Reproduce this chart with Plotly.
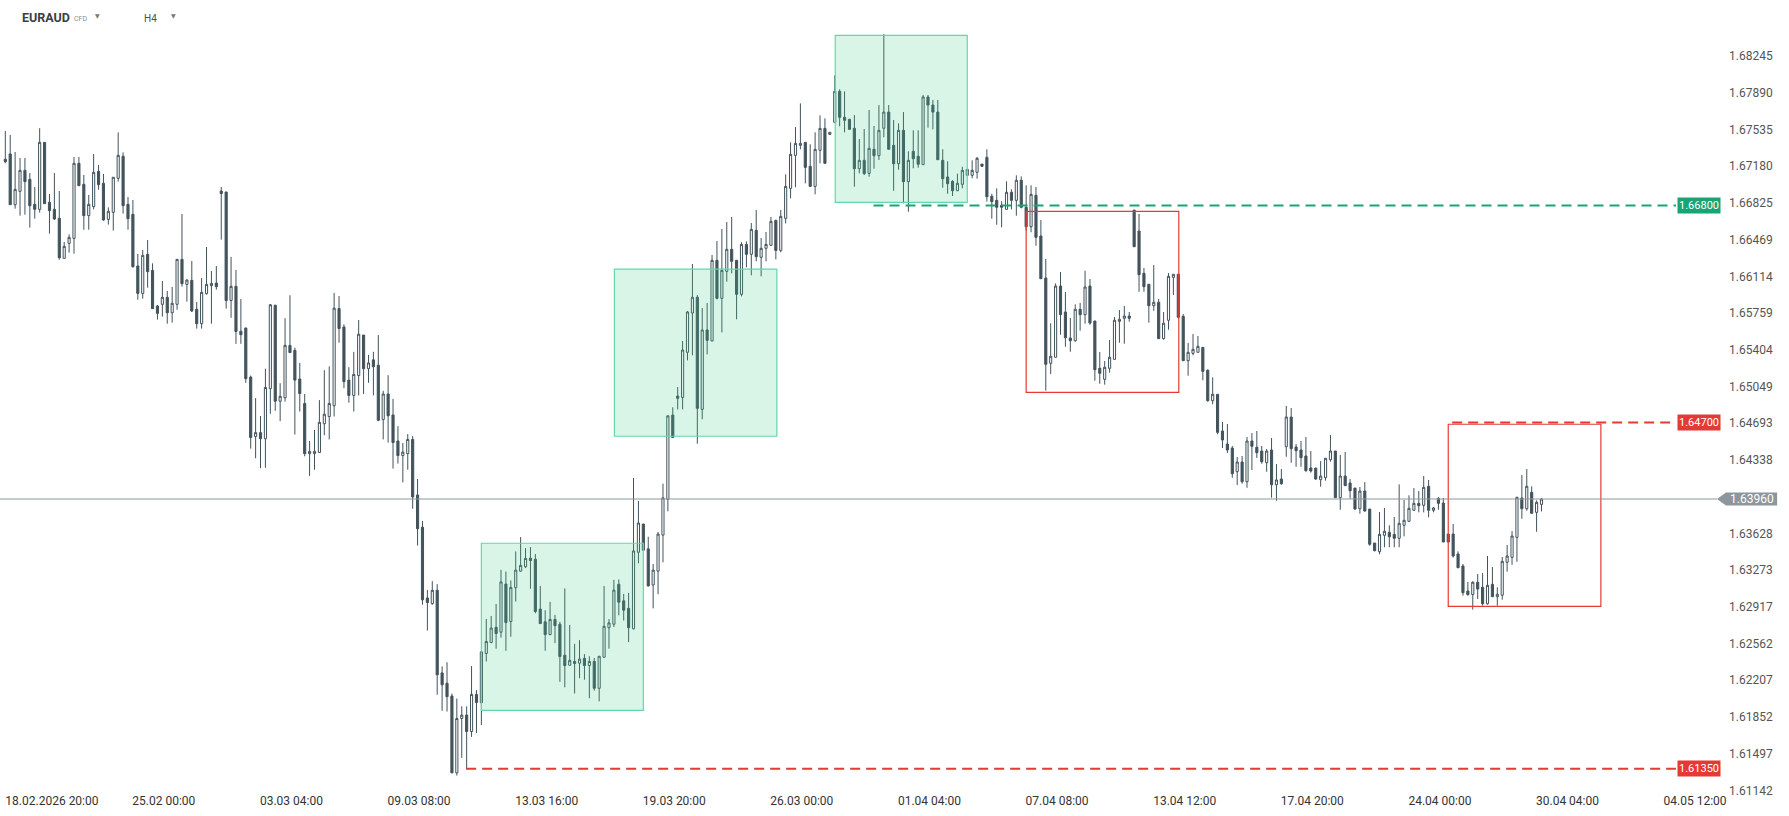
import plotly.graph_objects as go

# ---------------- data (EURAUD, H4) ----------------
open_ = [
1.67246,1.67297,1.66807,1.66936,1.67139,1.67052,1.66810,1.66762,1.67410,1.66830,
1.66762,1.66675,1.66288,1.66433,1.66481,1.67207,1.67004,1.66701,1.66788,1.67130,
1.67014,1.66665,1.66733,1.67062,1.67275,1.66810,1.66714,1.66214,1.65949,1.66327,
1.66172,1.65827,1.65843,1.65911,1.65762,1.65843,1.66278,1.66036,1.66075,1.65795,
1.65656,1.65946,1.66024,1.66049,1.66939,1.66930,1.65880,1.66017,1.65583,1.65613,
1.65139,1.64565,1.64602,1.64543,1.65028,1.65835,1.64906,1.64939,1.65446,1.65398,
1.65121,1.64884,1.64399,1.64399,1.64410,1.64688,1.64758,1.64862,1.65802,1.65624,
1.65110,1.64962,1.65154,1.65546,1.65221,1.65306,1.65254,1.64728,1.64976,1.64773,
1.64521,1.64380,1.64399,1.64536,1.63999,1.63688,1.63003,1.62948,1.63077,1.62278,
1.62178,1.62055,1.61311,1.61837,1.61870,1.61711,1.62070,1.61989,1.62466,1.62572,
1.62719,1.62672,1.63138,1.62775,1.63102,1.63262,1.63305,1.63388,1.63378,1.62895,
1.62772,1.62649,1.62795,1.62749,1.62449,1.62352,1.62389,1.62372,1.62419,1.62349,
1.62389,1.62129,1.62429,1.62715,1.62749,1.63135,1.62975,1.62902,1.62705,1.63445,
1.63718,1.63478,1.63128,1.63262,1.63611,1.63958,1.64772,1.64956,1.64943,1.65379,
1.65759,1.65911,1.64827,1.65595,1.65488,1.66269,1.65901,1.66162,1.66375,1.66269,
1.65940,1.66423,1.66327,1.66559,1.66298,1.66385,1.66414,1.66656,1.66365,1.66675,
1.66965,1.67284,1.67381,1.67410,1.67178,1.66984,1.67333,1.67545,1.67487,1.67604,
1.67903,1.67652,1.67633,1.67546,1.67155,1.67236,1.67110,1.67343,1.67281,1.67546,
1.67703,1.67381,1.67203,1.67526,1.67029,1.67323,1.67275,1.67194,1.67849,1.67771,
1.67703,1.67236,1.67075,1.67033,1.66942,1.67004,1.67091,1.67091,1.67120,1.67200,
1.67265,1.66888,1.66849,1.66801,1.66762,1.66927,1.66849,1.67043,1.66782,1.66594,
1.66898,1.66504,1.66098,1.65273,1.65331,1.66020,1.65769,1.65517,1.65491,1.65795,
1.65743,1.66020,1.65682,1.65224,1.65118,1.65224,1.65311,1.65679,1.65708,1.65730,
1.66755,1.66552,1.66143,1.66037,1.65830,1.65863,1.65511,1.65689,1.66104,1.66134,
1.65727,1.65298,1.65369,1.65379,1.65427,1.65205,1.64911,1.64973,1.64618,1.64492,
1.64453,1.64224,1.64318,1.64127,1.64521,1.64460,1.64424,1.64311,1.64434,1.64098,
1.64153,1.64466,1.64753,1.64463,1.64434,1.64376,1.64260,1.64260,1.64147,1.64166,
1.64340,1.64424,1.63973,1.64182,1.64115,1.64066,1.63866,1.64037,1.63863,1.63534,
1.63450,1.63609,1.63638,1.63618,1.63580,1.63706,1.63744,1.63851,1.63918,1.63899,
1.64083,1.63851,1.63967,1.63921,1.63621,1.63621,1.63428,1.63312,1.63070,1.63035,
1.63155,1.63106,1.62947,1.63135,1.63015,1.63029,1.63348,1.63396,1.63589,1.63970,
1.63866,1.64025,1.63831,1.63908]

high = [
1.67520,1.67481,1.67317,1.67259,1.67259,1.67113,1.66978,1.67546,1.67410,1.66910,
1.67113,1.66939,1.66446,1.66520,1.67268,1.67268,1.67094,1.66901,1.67297,1.67191,
1.67104,1.66781,1.67072,1.67507,1.67313,1.66881,1.66852,1.66330,1.66369,1.66465,
1.66240,1.65837,1.66069,1.65972,1.66011,1.66278,1.66717,1.66085,1.66262,1.65866,
1.66098,1.66398,1.66165,1.66214,1.66978,1.66930,1.66302,1.66176,1.65894,1.65620,
1.65154,1.64936,1.64762,1.65221,1.65846,1.65835,1.65080,1.65709,1.65931,1.65424,
1.65276,1.64976,1.64521,1.64628,1.64917,1.65206,1.65243,1.65954,1.65924,1.65650,
1.65235,1.65384,1.65691,1.65546,1.65354,1.65384,1.65546,1.65006,1.65158,1.64928,
1.64665,1.64502,1.64588,1.64569,1.64154,1.63747,1.63081,1.63166,1.63136,1.62341,
1.62381,1.62078,1.62030,1.61955,1.61955,1.62344,1.62111,1.62489,1.62799,1.62829,
1.62945,1.63275,1.63258,1.63172,1.63452,1.63592,1.63485,1.63495,1.63428,1.63119,
1.62885,1.62965,1.62839,1.62772,1.63095,1.62742,1.62559,1.62595,1.62459,1.62439,
1.62422,1.62439,1.63119,1.62799,1.63178,1.63182,1.63042,1.63052,1.64164,1.63941,
1.63718,1.63595,1.63332,1.63641,1.64108,1.64771,1.64847,1.65043,1.65488,1.65779,
1.66233,1.65933,1.65807,1.65856,1.66320,1.66456,1.66572,1.66639,1.66688,1.66269,
1.66443,1.66452,1.66630,1.66755,1.66485,1.66543,1.66688,1.66656,1.66755,1.67100,
1.67410,1.67558,1.67787,1.67410,1.67391,1.67507,1.67671,1.67642,1.67507,1.68058,
1.67923,1.67903,1.67633,1.67674,1.67442,1.67539,1.67723,1.67568,1.67771,1.68458,
1.67771,1.67626,1.67594,1.67703,1.67323,1.67526,1.67526,1.67868,1.67868,1.67820,
1.67820,1.67343,1.67227,1.67043,1.67107,1.67174,1.67149,1.67236,1.67268,1.67200,
1.67343,1.66913,1.66965,1.66840,1.67033,1.66956,1.67091,1.67081,1.66994,1.66994,
1.66978,1.66659,1.66282,1.65660,1.66046,1.66156,1.65962,1.65711,1.65843,1.65856,
1.66168,1.66088,1.65682,1.65382,1.65295,1.65498,1.65720,1.65788,1.65827,1.65769,
1.66755,1.66717,1.66194,1.66037,1.66223,1.65895,1.65769,1.66146,1.66134,1.66134,
1.65749,1.65469,1.65556,1.65537,1.65427,1.65214,1.65137,1.64973,1.64705,1.64685,
1.64473,1.64366,1.64376,1.64560,1.64598,1.64618,1.64473,1.64444,1.64550,1.64298,
1.64250,1.64860,1.64840,1.64492,1.64521,1.64560,1.64424,1.64260,1.64327,1.64354,
1.64579,1.64424,1.64386,1.64415,1.64153,1.64066,1.64076,1.64124,1.63863,1.63534,
1.63834,1.63873,1.63706,1.63786,1.64102,1.63950,1.63996,1.64066,1.64037,1.64182,
1.64144,1.63883,1.63977,1.63970,1.63621,1.63718,1.63454,1.63331,1.63157,1.63164,
1.63235,1.63244,1.63409,1.63302,1.63106,1.63399,1.63515,1.63650,1.63977,1.64192,
1.64250,1.64083,1.63947,1.63967]

low = [
1.67207,1.66807,1.66768,1.66701,1.66710,1.66585,1.66672,1.66730,1.66817,1.66527,
1.66659,1.66275,1.66288,1.66343,1.66333,1.66991,1.66565,1.66565,1.66762,1.66952,
1.66652,1.66614,1.66556,1.67030,1.66720,1.66565,1.66198,1.65888,1.65898,1.66004,
1.65801,1.65695,1.65724,1.65656,1.65666,1.65791,1.66014,1.65869,1.65769,1.65608,
1.65608,1.65937,1.65656,1.65985,1.66469,1.65802,1.65713,1.65461,1.65461,1.65084,
1.64447,1.64354,1.64258,1.64262,1.64784,1.64813,1.64713,1.64902,1.65376,1.64584,
1.64806,1.64373,1.64184,1.64243,1.64410,1.64577,1.64536,1.64758,1.65472,1.65032,
1.64891,1.64806,1.64962,1.64976,1.65084,1.64962,1.64713,1.64536,1.64506,1.64254,
1.64303,1.64121,1.64243,1.63866,1.63510,1.62937,1.62688,1.62937,1.62067,1.61911,
1.61904,1.61311,1.61285,1.61456,1.61345,1.61659,1.61696,1.61773,1.62389,1.62566,
1.62512,1.62619,1.62492,1.62629,1.62969,1.63258,1.63292,1.63092,1.62855,1.62755,
1.62492,1.62642,1.62566,1.62192,1.62139,1.62352,1.62079,1.62226,1.62212,1.62033,
1.62106,1.62003,1.62429,1.62512,1.62722,1.62835,1.62785,1.62576,1.62699,1.63338,
1.63462,1.63115,1.62902,1.63039,1.63348,1.63841,1.64556,1.64827,1.64827,1.65301,
1.65350,1.64495,1.64731,1.65359,1.65488,1.65891,1.65572,1.66062,1.66143,1.65698,
1.65920,1.66201,1.66124,1.66259,1.66114,1.66259,1.66414,1.66278,1.66346,1.66626,
1.66868,1.66975,1.67342,1.67013,1.66984,1.66907,1.67207,1.67207,1.67487,1.67604,
1.67565,1.67507,1.67530,1.66981,1.67110,1.67094,1.67078,1.67155,1.67239,1.67459,
1.67343,1.66942,1.67145,1.66820,1.66739,1.67159,1.67165,1.67194,1.67552,1.67536,
1.67242,1.66971,1.66913,1.66891,1.66942,1.66965,1.67091,1.67062,1.67058,1.67178,
1.66836,1.66671,1.66613,1.66588,1.66762,1.66762,1.66700,1.66772,1.66555,1.66540,
1.66410,1.66091,1.65008,1.65169,1.65331,1.65549,1.65433,1.65385,1.65482,1.65588,
1.65656,1.65646,1.65104,1.65075,1.65066,1.65182,1.65311,1.65472,1.65462,1.65675,
1.66400,1.65965,1.65965,1.65665,1.65781,1.65511,1.65501,1.65598,1.65933,1.65718,
1.65298,1.65153,1.65350,1.65379,1.65108,1.64901,1.64876,1.64586,1.64453,1.64405,
1.64166,1.64095,1.64108,1.64069,1.64240,1.64357,1.64301,1.64224,1.63973,1.63944,
1.64098,1.64369,1.64311,1.64272,1.64272,1.64224,1.64215,1.64147,1.64079,1.64137,
1.64321,1.63973,1.63856,1.64089,1.63963,1.63856,1.63818,1.63837,1.63508,1.63454,
1.63425,1.63493,1.63493,1.63493,1.63493,1.63599,1.63744,1.63847,1.63831,1.63831,
1.63783,1.63831,1.63856,1.63544,1.63544,1.63393,1.63295,1.63025,1.63025,1.62890,
1.62993,1.62928,1.62938,1.63015,1.62928,1.62986,1.63257,1.63324,1.63353,1.63769,
1.63847,1.63818,1.63643,1.63840]

close = [
1.67223,1.66807,1.66955,1.67139,1.67030,1.66797,1.66762,1.67410,1.66817,1.66749,
1.66668,1.66294,1.66404,1.66491,1.67207,1.66991,1.66701,1.66810,1.67120,1.67001,
1.66659,1.66743,1.67072,1.67284,1.66797,1.66672,1.66207,1.65949,1.66317,1.66159,
1.65801,1.65756,1.65911,1.65762,1.65853,1.66278,1.66043,1.66078,1.65779,1.65656,
1.65959,1.66036,1.66046,1.66014,1.66914,1.65880,1.66017,1.65580,1.65550,1.65124,
1.64554,1.64602,1.64543,1.65039,1.65839,1.64906,1.64954,1.65446,1.65376,1.65110,
1.64980,1.64399,1.64421,1.64421,1.64702,1.64780,1.64884,1.65806,1.65609,1.65095,
1.64962,1.65165,1.65554,1.65221,1.65276,1.65239,1.64721,1.64976,1.64765,1.64506,
1.64380,1.64414,1.64536,1.63980,1.63673,1.62985,1.62959,1.63077,1.62259,1.62163,
1.62048,1.61311,1.61837,1.61870,1.61711,1.62070,1.61992,1.62482,1.62582,1.62712,
1.62659,1.63158,1.62765,1.63105,1.63272,1.63318,1.63385,1.63365,1.62872,1.62755,
1.62649,1.62795,1.62735,1.62436,1.62349,1.62399,1.62369,1.62412,1.62349,1.62389,
1.62129,1.62439,1.62729,1.62762,1.63079,1.62962,1.62885,1.62715,1.63458,1.63728,
1.63465,1.63119,1.63272,1.63621,1.63971,1.64764,1.64556,1.64934,1.65401,1.65769,
1.65911,1.64837,1.65595,1.65495,1.66269,1.65901,1.66172,1.66375,1.66259,1.65940,
1.66423,1.66327,1.66568,1.66304,1.66385,1.66423,1.66646,1.66365,1.66694,1.66984,
1.67294,1.67400,1.67400,1.67168,1.66984,1.67342,1.67545,1.67207,1.67507,1.67903,
1.67652,1.67623,1.67536,1.67155,1.67236,1.67107,1.67352,1.67281,1.67526,1.67703,
1.67343,1.67203,1.67526,1.67029,1.67236,1.67252,1.67198,1.67849,1.67771,1.67703,
1.67242,1.67058,1.67010,1.66942,1.67014,1.67139,1.67149,1.67139,1.67256,1.67178,
1.66884,1.66836,1.66782,1.66782,1.66927,1.66849,1.67043,1.66782,1.66594,1.66907,
1.66491,1.66091,1.65263,1.65340,1.66020,1.65743,1.65520,1.65491,1.65795,1.65743,
1.66011,1.65662,1.65211,1.65176,1.65234,1.65331,1.65689,1.65698,1.65730,1.65708,
1.66400,1.66130,1.66014,1.65830,1.65863,1.65511,1.65660,1.66114,1.66134,1.65718,
1.65298,1.65379,1.65408,1.65437,1.65195,1.64911,1.64973,1.64605,1.64531,1.64434,
1.64205,1.64318,1.64127,1.64521,1.64470,1.64408,1.64321,1.64424,1.64098,1.64144,
1.64108,1.64753,1.64447,1.64427,1.64360,1.64234,1.64231,1.64153,1.64182,1.64354,
1.64424,1.63973,1.64182,1.64089,1.64040,1.63863,1.64037,1.63844,1.63522,1.63460,
1.63618,1.63648,1.63595,1.63580,1.63725,1.63754,1.63870,1.63918,1.63895,1.64073,
1.63851,1.63873,1.63918,1.63544,1.63544,1.63409,1.63295,1.63054,1.63035,1.63155,
1.63089,1.62947,1.63125,1.63015,1.63039,1.63357,1.63409,1.63602,1.63977,1.63866,
1.64083,1.63822,1.63928,1.63960]

x_tick_pos = [9.5, 32.3, 58.3, 84.3, 110.3, 136.3, 162.3, 188.3, 214.3, 240.3, 266.3, 292.3, 318.3, 344.3]
x_tick_text = ["18.02.2026 20:00", "25.02 00:00", "03.03 04:00", "09.03 08:00", "13.03 16:00",
               "19.03 20:00", "26.03 00:00", "01.04 04:00", "07.04 08:00", "13.04 12:00",
               "17.04 20:00", "24.04 00:00", "30.04 04:00", "04.05 12:00"]
y_ticks = [1.68245, 1.67890, 1.67535, 1.67180, 1.66825, 1.66469, 1.66114, 1.65759, 1.65404,
           1.65049, 1.64693, 1.64338, 1.63628, 1.63273, 1.62917, 1.62562, 1.62207, 1.61852,
           1.61497, 1.61142]

current_price = 1.63960
# zones: (x_start, x_end, price_low, price_high)
green_zones = [(97.0, 130.0, 1.61916, 1.63532), (124.1, 157.2, 1.64567, 1.66183),
               (169.1, 196.0, 1.66830, 1.68445)]
red_zones = [(208.0, 239.1, 1.64992, 1.66743), (294.0, 325.1, 1.62922, 1.64683)]
# levels: (price, x_start, colour)
levels = [(1.66800, 176.9, "#17a673"), (1.64700, 294.8, "#e53935"), (1.61350, 93.9, "#e53935")]
level_end = 340.4

CANDLE = "#42535c"
x = list(range(len(open_)))

fig = go.Figure()
fig.add_trace(go.Candlestick(
    x=x, open=open_, high=high, low=low, close=close,
    increasing=dict(line=dict(color=CANDLE, width=1), fillcolor="#ffffff"),
    decreasing=dict(line=dict(color=CANDLE, width=1), fillcolor=CANDLE),
    whiskerwidth=0, showlegend=False, hoverinfo="skip"))

shapes = []
for x0, x1, y0, y1 in green_zones:
    shapes.append(dict(type="rect", xref="x", yref="y", x0=x0, x1=x1, y0=y0, y1=y1,
                       fillcolor="rgba(62,207,142,0.2)", line=dict(color="#62d8aa", width=1.2),
                       layer="above"))
for x0, x1, y0, y1 in red_zones:
    shapes.append(dict(type="rect", xref="x", yref="y", x0=x0, x1=x1, y0=y0, y1=y1,
                       fillcolor="rgba(0,0,0,0)", line=dict(color="#e53935", width=1.2),
                       layer="above"))
for price, xs, col in levels:
    shapes.append(dict(type="line", xref="x", yref="y", x0=xs, x1=level_end, y0=price, y1=price,
                       line=dict(color=col, width=2, dash="10px,6px"), layer="above"))
shapes.append(dict(type="line", xref="paper", yref="y", x0=0, x1=1, y0=current_price, y1=current_price,
                   line=dict(color="#8d979c", width=1), layer="above"))
# price tag with arrow for current price
h = 0.00063
shapes.append(dict(type="path", xref="paper", yref="y",
                   path=f"M 1.0,{current_price} L 1.00524,{current_price+h} L 1.0350,{current_price+h} "
                        f"L 1.0350,{current_price-h} L 1.00524,{current_price-h} Z",
                   fillcolor="#8c969c", line=dict(width=0), layer="above"))

annotations = []
for price, xs, col in levels:
    annotations.append(dict(xref="paper", yref="y", x=0.9895, y=price, text=f"{price:.5f}",
                            showarrow=False, bgcolor=col, borderpad=1,
                            font=dict(family="Roboto", size=11, color="#ffffff"),
                            xanchor="center", yanchor="middle"))
annotations.append(dict(xref="paper", yref="y", x=1.0201, y=current_price, text=f"{current_price:.5f}",
                        showarrow=False, font=dict(family="Roboto", size=12, color="#ffffff"),
                        xanchor="center", yanchor="middle"))
# header
annotations += [
    dict(xref="paper", yref="paper", x=0.0115, y=1.0131, text="<b>EURAUD</b>", showarrow=False,
         xanchor="left", yanchor="middle", font=dict(family="Roboto", size=12.5, color="#3a4045")),
    dict(xref="paper", yref="paper", x=0.0420, y=1.0118, text="CFD", showarrow=False,
         xanchor="left", yanchor="middle", font=dict(family="Roboto", size=7, color="#8a8f93")),
    dict(xref="paper", yref="paper", x=0.0565, y=1.0165, text="▼", showarrow=False,
         xanchor="center", yanchor="middle", font=dict(family="DejaVu Sans", size=6, color="#777777")),
    dict(xref="paper", yref="paper", x=0.0825, y=1.0118, text="H4", showarrow=False,
         xanchor="left", yanchor="middle", font=dict(family="Roboto", size=10, color="#4a5055")),
    dict(xref="paper", yref="paper", x=0.1008, y=1.0165, text="▼", showarrow=False,
         xanchor="center", yanchor="middle", font=dict(family="DejaVu Sans", size=6, color="#777777")),
]

fig.update_layout(
    width=1789, height=816,
    margin=dict(l=0, r=72, t=28, b=24, autoexpand=False),
    paper_bgcolor="#ffffff", plot_bgcolor="#ffffff",
    font=dict(family="Roboto", size=12, color="#444444"),
    showlegend=False, boxgap=0.38, hovermode=False,
    shapes=shapes, annotations=annotations,
    xaxis=dict(range=[-1.08, 348.76], rangeslider=dict(visible=False), showgrid=False,
               zeroline=False, showline=False, ticks="", tickmode="array", automargin=False,
               tickvals=x_tick_pos, ticktext=x_tick_text,
               tickfont=dict(family="Roboto", size=12, color="#333333")),
    yaxis=dict(range=[1.61126, 1.68516], side="right", showgrid=False, zeroline=False,
               showline=False, ticks="", tickmode="array", tickvals=y_ticks, automargin=False,
               ticktext=[f"{v:.5f}" for v in y_ticks], ticklabelstandoff=11,
               tickfont=dict(family="Roboto", size=12, color="#555555")),
)

fig.write_html("out.html", config={"displayModeBar": False},
               post_script="document.body.style.margin='0';document.body.style.overflow='hidden';")
